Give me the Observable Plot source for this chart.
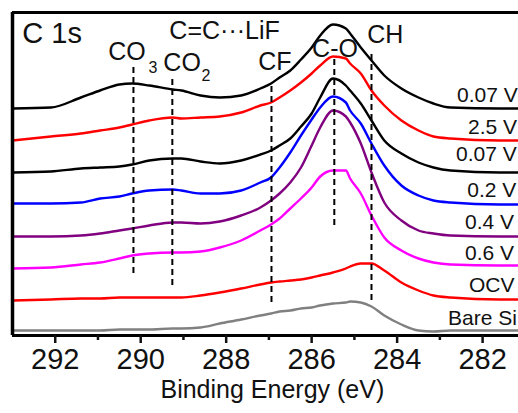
<!DOCTYPE html>
<html><head><meta charset="utf-8">
<script src="https://cdn.jsdelivr.net/npm/d3@7"></script>
<script src="https://cdn.jsdelivr.net/npm/@observablehq/plot@0.6"></script>
<style>body{margin:0;background:#fff;} svg{display:block}</style>
</head><body><div id="chart"></div>
<script>
// Binding energy grid (eV)
const energy = [293.0,292.1,291.4,290.95,290.5,290.2,289.8,289.25,289.05,288.6,288.15,287.65,287.2,286.95,286.75,286.5,286.25,286.0,285.8,285.5,285.2,285.1,284.85,284.6,284.3,283.9,283.5,283.15,282.75,281.6,281.15];

// Stacked spectra (offset intensity, arb. units)
const v007top = [227,228,238,245,251,252,250,246,245,240,238,240,247,252,258,265,276,288,300,311,307,302,288,275,260,247,238,232,228,227,227];
const v25     = [195,199,202,205,208,211,215,218,217,218,219,223,230,233,238,245,253,262,270,279,277,272,262,245,230,215,205,199,197,195,195];
const v007    = [163,164,167,168,169,171,175,177,177,174,172,175,181,185,190,197,209,222,238,257,250,245,232,215,195,182,173,168,165,163,163];
const v02     = [132,132,133,137,139,142,145,146,145,142,142,145,153,158,168,183,200,216,228,239,233,225,212,192,170,150,140,135,133,131,131];
const v04     = [99,99,100,102,105,107,110,113,113,112,114,120,128,135,142,153,168,190,208,225,219,213,192,163,133,115,105,102,100,99,99];
const v06     = [67,68,71,73,77,80,82,83,83,84,88,95,105,111,117,127,137,148,159,165,165,157,142,120,98,85,77,73,71,70,70];
const vOCV    = [35,36,37,37,38,38,38,38,38,40,43,47,51,53,54,55,56,58,60,63,67,69,72,72,65,53,45,40,38,36,36];
const vBare   = [5,5,5,5,6,6,6,7,7,8,12,16,20,22,24,25,27,28,30,32,33,34,33,29,20,11,5,4,5,5,5];

const seriesValues = [v007top, v25, v007, v02, v04, v06, vOCV, vBare];
const seriesColors = ["#000000","#ff0000","#000000","#0000ff","#800080","#ff00ff","#ff0000","#808080"];
const seriesLabels = ["0.07 V","2.5 V","0.07 V","0.2 V","0.4 V","0.6 V","OCV","Bare Si"];
const labelX = [282.60,282.34,282.62,282.36,282.41,282.41,282.32,282.81];
const labelY = [240,208,181,145,113,82,50,17];

// Reference dashed lines
const peakNames = ["CO3","CO2","CF","C-O","CH"];
const peakE  = [290.17,289.26,286.94,285.47,284.6];
const peakLo = [62,50,33,110,35];
const peakHi = [268,260,253,278,283];

// Annotations
const annText = ["C=C\u00B7\u00B7\u00B7LiF","CO","CO","CF","C-O","CH"];
const annX    = [289.33,290.76,289.47,287.25,285.99,284.70];
const annY    = [305,284,273,274,286.5,301];
const subText = ["3","2"];
const subX    = [289.82,288.58];
const subY    = [268,260];

const majorTicks = [292,290,288,286,284,282];
const minorTicks = [291,289,287,285,283];

const font = "'Liberation Sans', Arial, Helvetica, sans-serif";

const lines = seriesValues.map((vals, i) =>
  Plot.line(energy.map((e, j) => ({e, v: vals[j]})), {
    x: "e", y: "v", stroke: seriesColors[i], strokeWidth: 2.4, curve: "monotone-x"
  })
);

const dashRows = peakE.map((e, i) => ({e, lo: peakLo[i], hi: peakHi[i]}));
const labRows = seriesLabels.map((t, i) => ({t, x: labelX[i], y: labelY[i]}));
const annRows = annText.map((t, i) => ({t, x: annX[i], y: annY[i]}));
const subRows = subText.map((t, i) => ({t, x: subX[i], y: subY[i]}));

const chart = Plot.plot({
  width: 518,
  height: 413,
  marginLeft: 12,
  marginRight: 0,
  marginTop: 12,
  marginBottom: 78,
  style: {fontFamily: font, background: "white", color: "#111"},
  x: {domain: [293.0, 281.16], axis: null},
  y: {domain: [0, 323], axis: null},
  marks: [
    ...lines,
    Plot.ruleX(dashRows, {x: "e", y1: "lo", y2: "hi", stroke: "#000", strokeWidth: 2, strokeDasharray: "6,4"}),
    Plot.text(labRows, {x: "x", y: "y", text: "t", textAnchor: "start", fontSize: 21, fill: "#111"}),
    Plot.text(annRows, {x: "x", y: "y", text: "t", textAnchor: "start", fontSize: 25, fill: "#111"}),
    Plot.text(subRows, {x: "x", y: "y", text: "t", textAnchor: "start", fontSize: 16, fill: "#111"}),
    Plot.text([{x: 292.77, y: 302}], {x: "x", y: "y", text: () => "C 1s", textAnchor: "start", fontSize: 29, fill: "#111"}),
    Plot.ruleY([0], {stroke: "#000", strokeWidth: 3}),
    Plot.ruleY([323], {stroke: "#000", strokeWidth: 3}),
    Plot.ruleX([293.0], {stroke: "#000", strokeWidth: 3.5}),
    Plot.axisX(majorTicks, {tickSize: 8, strokeWidth: 2.5, text: null, label: null}),
    Plot.axisX(minorTicks, {tickSize: 5, strokeWidth: 2.5, text: null, label: null}),
    Plot.text(majorTicks, {x: d => d, frameAnchor: "bottom", dy: 13, lineAnchor: "top", text: d => String(d), fontSize: 29, fill: "#111"}),
    Plot.text([{x: 286.92}], {x: "x", frameAnchor: "bottom", dy: 62, text: () => "Binding Energy (eV)", fontSize: 25, fill: "#111"})
  ]
});
document.getElementById("chart").appendChild(chart);
</script>
</body></html>
